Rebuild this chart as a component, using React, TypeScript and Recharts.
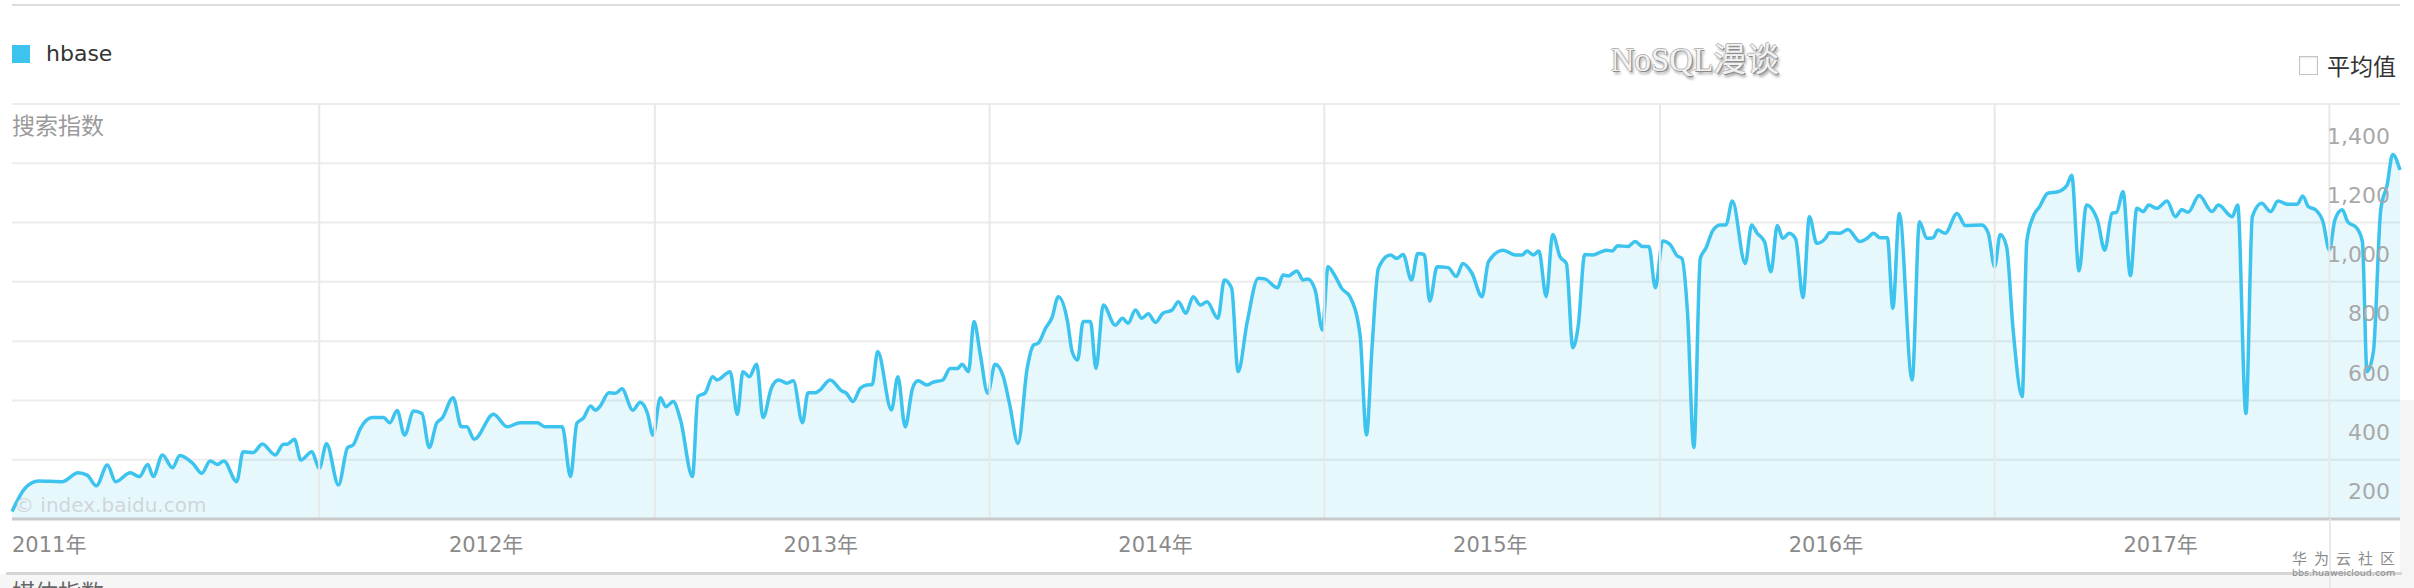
import { AreaChart, Area, XAxis, YAxis, CartesianGrid, ReferenceLine } from "recharts";

// days counted from 2011-01-01, weekly-ish samples
const days = [
  30, 44, 59, 85, 102, 112, 122, 134, 143, 159, 169, 178, 184, 194, 205, 213, 227, 237, 246, 254,
  261, 275, 282, 293, 303, 317, 326, 330, 338, 345, 357, 365, 373, 386, 396, 402, 410, 423, 435, 442,
  450, 458, 468, 477, 485, 493, 499, 511, 520, 526, 534, 555, 570, 584, 603, 611, 630, 639, 646, 653,
  661, 666, 671, 681, 688, 695, 707, 715, 723, 729, 737, 743, 751, 759, 772, 778, 786, 794, 799, 813,
  821, 827, 834, 842, 849, 858, 866, 875, 882, 892, 898, 906, 911, 922, 935, 940, 947, 955, 962, 968,
  974, 989, 996, 1004, 1012, 1018, 1028, 1034, 1045, 1053, 1061, 1066, 1073, 1079, 1086, 1094, 1102, 1111, 1118, 1127,
  1137, 1144, 1149, 1157, 1164, 1171, 1181, 1186, 1192, 1198, 1206, 1212, 1220, 1233, 1241, 1247, 1255, 1262, 1269, 1277,
  1285, 1295, 1302, 1310, 1318, 1326, 1333, 1345, 1352, 1360, 1367, 1377, 1389, 1396, 1410, 1416, 1422, 1431, 1438, 1443,
  1451, 1459, 1465, 1473, 1480, 1489, 1500, 1507, 1513, 1520, 1533, 1540, 1547, 1556, 1563, 1570, 1576, 1584, 1596, 1605,
  1612, 1622, 1633, 1640, 1656, 1669, 1677, 1682, 1689, 1695, 1703, 1710, 1718, 1725, 1732, 1738, 1745, 1754, 1762, 1769,
  1775, 1781, 1792, 1800, 1808, 1815, 1822, 1830, 1838, 1846, 1851, 1857, 1864, 1871, 1877, 1885, 1893, 1899, 1906, 1920,
  1927, 1933, 1941, 1948, 1955, 1961, 1968, 1975, 1983, 1990, 1998, 2007, 2012, 2023, 2032, 2045, 2053, 2060, 2067, 2075,
  2081, 2088, 2102, 2110, 2118, 2125, 2130, 2138, 2151, 2160, 2178, 2185, 2192, 2198, 2205, 2212, 2222, 2227, 2234, 2241,
  2250, 2261, 2271, 2276, 2284, 2292, 2304, 2312, 2320, 2325, 2332, 2340, 2347, 2354, 2360, 2369, 2380, 2389, 2396, 2403,
  2415, 2429, 2436, 2451, 2457, 2466, 2473, 2483, 2493, 2501, 2511, 2522, 2528, 2534, 2542, 2550, 2557, 2563, 2571, 2577,
  2587, 2593, 2598, 2605, 2613, 2620, 2626, 2634,
];

const hbase = [
  25, 103, 128, 126, 156, 148, 112, 182, 126, 156, 143, 184, 143, 216, 173, 214, 188, 154, 196, 184,
  196, 126, 227, 224, 253, 216, 252, 252, 269, 199, 227, 171, 254, 115, 241, 250, 306, 342, 342, 325,
  366, 283, 364, 356, 241, 323, 340, 409, 311, 311, 269, 353, 311, 325, 325, 311, 311, 143, 323, 340,
  381, 367, 379, 426, 424, 439, 367, 394, 356, 283, 409, 379, 396, 334, 143, 413, 426, 480, 469, 497,
  353, 497, 480, 522, 342, 441, 469, 458, 466, 325, 426, 426, 435, 469, 432, 424, 396, 441, 452, 454,
  565, 368, 480, 311, 441, 466, 452, 461, 469, 508, 508, 522, 497, 666, 553, 424, 522, 480, 385, 255,
  508, 587, 593, 643, 679, 750, 666, 565, 536, 666, 666, 508, 722, 654, 677, 660, 705, 677, 692, 663,
  694, 705, 733, 694, 750, 722, 733, 677, 806, 778, 497, 666, 812, 810, 780, 823, 820, 837, 806, 810,
  773, 638, 851, 818, 778, 750, 621, 283, 576, 846, 891, 879, 892, 806, 896, 892, 735, 851, 848, 818,
  862, 829, 750, 868, 907, 891, 891, 904, 891, 904, 750, 960, 885, 862, 578, 654, 892, 891, 900, 907,
  904, 922, 919, 936, 919, 919, 780, 938, 926, 887, 879, 700, 241, 879, 913, 975, 992, 992, 1073, 862,
  992, 964, 936, 834, 990, 947, 964, 945, 747, 1020, 930, 945, 966, 964, 977, 936, 947, 964, 949, 949,
  711, 1031, 469, 1003, 947, 949, 975, 964, 1031, 990, 992, 964, 851, 960, 919, 643, 413, 936, 1020, 1054,
  1099, 1104, 1127, 1160, 837, 1059, 1009, 907, 1031, 1035, 1104, 821, 1048, 1037, 1059, 1048, 1073, 1020, 1043, 1035,
  1091, 1037, 1059, 1020, 1059, 356, 1020, 1065, 1037, 1073, 1062, 1062, 1090, 1054, 1043, 1003, 907, 1009, 1043, 1003,
  981, 936, 497, 565, 1043, 1127, 1230, 1177,
];

// Jan 1st of each year (grid) and Jul 1st (labels)
const yearStarts = [365, 731, 1096, 1461, 1827, 2192, 2557];
const yearMids = [181, 547, 912, 1277, 1642, 2008, 2373];
const yearLabels = ["2011年", "2012年", "2013年", "2014年", "2015年", "2016年", "2017年"];
const yTicks = [0, 200, 400, 600, 800, 1000, 1200, 1400];

const data = days.map((d, i) => ({ day: d, value: hbase[i] }));

const BLUE = "#3cc3ee";
const LATIN = '"DejaVu Sans", "Noto Sans CJK SC", sans-serif';
const CJK = '"Noto Sans CJK SC", "DejaVu Sans", sans-serif';

function YearTick(props: any) {
  const { x, payload } = props;
  const i = yearMids.indexOf(payload.value);
  const label = yearLabels[i] ?? "";
  // the first year is pinned to the left edge of the plot
  const first = i === 0;
  return (
    <text
      x={first ? 12 : x}
      y={545}
      textAnchor={first ? "start" : "middle"}
      dominantBaseline="central"
      fontFamily={LATIN}
      fontSize={21}
      fill="#8a8a8a"
    >
      {label}
    </text>
  );
}

const renderValueTick = (props: any) => {
  const { y, payload } = props;
  if (payload.value === 0) return <g />;
  return (
    <text
      x={2390}
      y={y + 32}
      textAnchor="end"
      dominantBaseline="central"
      fontFamily={LATIN}
      fontSize={22}
      fill="#a9a9a9"
    >
      {Number(payload.value).toLocaleString("en-US")}
    </text>
  );
};

export default function App() {
  return (
    <div style={{ position: "absolute", left: 0, top: 0, width: 2414, height: 588, background: "#fff", overflow: "hidden" }}>
      {/* page bits around the chart */}
      <div style={{ position: "absolute", left: 12, top: 4, width: 2388, height: 2, background: "#dcdcdc" }} />
      <div style={{ position: "absolute", left: 2400, top: 400, width: 14, height: 188, background: "#f5f5f5" }} />
      <div style={{ position: "absolute", left: 0, top: 574, width: 2400, height: 14, background: "#f6f6f6" }} />

      <AreaChart width={2414} height={588} data={data} margin={{ top: 104, right: 14, bottom: 39, left: 12 }}>
        <CartesianGrid vertical={false} stroke="#ececec" strokeWidth={2} />
        {yearStarts.map((d) => (
          <ReferenceLine key={d} x={d} stroke="#e8e8e8" strokeWidth={2} />
        ))}
        <XAxis
          type="number"
          dataKey="day"
          domain={[30, 2634]}
          ticks={yearMids}
          interval={0}
          tick={<YearTick />}
          tickLine={false}
          axisLine={{ stroke: "#c9c9c9", strokeWidth: 3 }}
          height={30}
        />
        <YAxis
          orientation="right"
          mirror
          width={80}
          domain={[0, 1400]}
          ticks={yTicks}
          interval={0}
          tick={renderValueTick}
          tickLine={false}
          axisLine={false}
        />
        <Area
          type="monotone"
          dataKey="value"
          stroke={BLUE}
          strokeWidth={3.5}
          fill={BLUE}
          fillOpacity={0.12}
          dot={false}
          activeDot={false}
          isAnimationActive={false}
        />
      </AreaChart>

      <div style={{ position: "absolute", left: 2329, top: 519, width: 2, height: 69, background: "#e8e8e8" }} />
      <div style={{ position: "absolute", left: 6, top: 572, width: 2396, height: 3, background: "#d6d6d6" }} />

      {/* legend */}
      <div style={{ position: "absolute", left: 12, top: 45, width: 18, height: 18, background: BLUE }} />
      <div style={{ position: "absolute", left: 46, top: 42, fontFamily: LATIN, fontSize: 22, lineHeight: "24px", color: "#333" }}>
        hbase
      </div>

      {/* watermark title */}
      <div
        style={{
          position: "absolute",
          left: 1600,
          top: 40,
          width: 190,
          textAlign: "center",
          whiteSpace: "nowrap",
          fontFamily: '"Liberation Serif", "Noto Sans CJK SC", serif',
          fontSize: 33,
          lineHeight: "40px",
          color: "#f2f2f2",
          textShadow: "1px 1px 0 #8a8a8a, -1px 0 0 #b5b5b5, 0 -1px 0 #b5b5b5, 2px 3px 3px #9a9a9a",
        }}
      >
        NoSQL漫谈
      </div>

      {/* average checkbox */}
      <div style={{ position: "absolute", left: 2299, top: 56, width: 17, height: 17, border: "1px solid #c4c4c4", background: "#fff", boxShadow: "inset 0 1px 2px #e6e6e6" }} />
      <div style={{ position: "absolute", left: 2327, top: 52, whiteSpace: "nowrap", fontFamily: CJK, fontSize: 23, lineHeight: "26px", color: "#333" }}>
        平均值
      </div>

      {/* axis title */}
      <div style={{ position: "absolute", left: 12, top: 111, fontFamily: CJK, fontSize: 23, lineHeight: "26px", color: "#9a9a9a" }}>
        搜索指数
      </div>

      {/* source watermark */}
      <div style={{ position: "absolute", left: 14, top: 493, fontFamily: LATIN, fontSize: 20, lineHeight: "24px", color: "#cfd6da" }}>
        © index.baidu.com
      </div>

      {/* next panel title, cut by the picture edge */}
      <div style={{ position: "absolute", left: 12, top: 578, fontFamily: CJK, fontSize: 23, lineHeight: "26px", color: "#666" }}>
        媒体指数
      </div>

      {/* forum watermark */}
      <div style={{ position: "absolute", left: 2292, top: 549, whiteSpace: "nowrap", fontFamily: CJK, fontSize: 15, lineHeight: "17px", color: "#8c8c8c", letterSpacing: 7 }}>
        华为云社区
      </div>
      <div style={{ position: "absolute", left: 2292, top: 567, whiteSpace: "nowrap", fontFamily: LATIN, fontSize: 9.5, lineHeight: "11px", color: "#8c8c8c" }}>
        bbs.huaweicloud.com
      </div>
    </div>
  );
}
